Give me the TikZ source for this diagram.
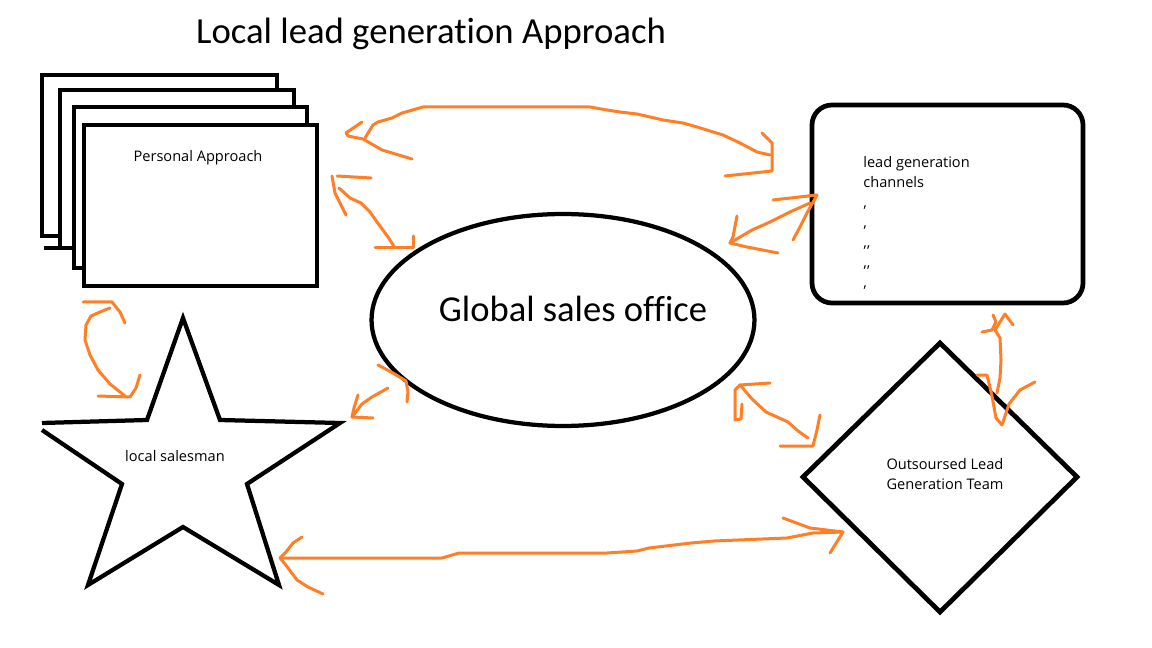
\documentclass[tikz,border=0pt]{standalone}
\usepackage{fontspec}
\setmainfont{Carlito}[Ligatures=NoCommon]
\newfontfamily\notefont{Open Sans}
\usetikzlibrary{shapes.geometric}
\definecolor{paintorange}{RGB}{255,127,39}

\begin{document}
\begin{tikzpicture}[x=0.02cm, y=-0.02cm,
    outline/.style={draw=black, line width=0.085cm},
    card/.style={outline, fill=white},
    pen/.style={draw=paintorange, line width=0.06cm, line cap=round, line join=round},
    note/.style={font=\notefont\fontsize{8.3}{11.4}\selectfont, inner sep=0pt}]
    \fill[white] (0,0) rectangle (1152,648);
    \useasboundingbox (0,0) rectangle (1152,648);
    \node[anchor=base, font=\fontsize{20.9}{24}\selectfont] (title) at (431,44) {Local lead generation Approach};

    % stack of cards
    \foreach \l/\t/\r/\b in {42/75/277/236, 60/90/294/248, 74/107/307/268, 84/125/317/286}
        \draw[card] (\l,\t) rectangle (\r,\b);
    \draw[outline] (44,248) -- (60,248);
    \node[note] (pa) at (198,158) {Personal Approach};

    \draw[outline, line width=0.095cm, rounded corners=0.4cm] (812,105) rectangle (1083,303);
    \node[note, anchor=north west, align=left] (lgc) at (863,156) {lead generation\\channels\\,\\,\\,,\\,,\\,};

    \node[outline, ellipse, minimum width=7.66cm, minimum height=4.24cm, inner sep=0pt] (gso) at (563,320) {};
    \node[anchor=base, font=\fontsize{20.8}{24}\selectfont] (gsotext) at (573,321) {Global sales office};

    \draw[outline, line join=miter] (42,423) -- (147,420) -- (183,318) -- (220,420) -- (340,423) -- (247,484)
        -- (279,585) -- (183,527) -- (88,585) -- (122,484) -- (42,430);
    \node[note] (ls) at (175,456) {local salesman};

    \draw[outline, line width=0.095cm] (940,343) -- (1077,477) -- (940,612) -- (803,477) -- cycle;
    \node[note, align=left] (olg) at (945,474) {Outsoursed Lead\\Generation Team};

    % card stack <-> channels
    \coordinate (a1) at (346,133);
    \coordinate (a2) at (772,171);
    \draw[pen] (362,122) -- (a1) -- (348,136) -- (363,139) -- (382,150) -- (412,159);
    \draw[pen] (365,138) -- (373,125) -- (378,122) -- (392,118) -- (402,113) -- (423,107) -- (590,107) -- (607,110)
        -- (620,112) -- (637,114) -- (663,120) -- (683,123) -- (697,127) -- (723,135) -- (740,143) -- (757,152) -- (770,155);
    \draw[pen] (762,133) -- (772,143) -- (a2) -- (725,176);

    % card stack <-> office
    \coordinate (b1) at (332,176);
    \coordinate (b2) at (413,248);
    \draw[pen] (371,178) -- (337,176);
    \draw[pen] (b1) -- (335,193) -- (346,215);
    \draw[pen] (339,188) -- (350,198) -- (361,203) -- (370,212) -- (377,222) -- (388,237) -- (395,248);
    \draw[pen] (375,248) -- (b2) -- (413,236);

    % channels <-> office
    \coordinate (c1) at (817,195);
    \coordinate (c2) at (730,243);
    \draw[pen] (773,200) -- (c1) -- (807,213) -- (800,227) -- (793,240);
    \draw[pen] (810,203) -- (790,212) -- (770,222) -- (752,230) -- (c2);
    \draw[pen] (737,216) -- (733,237) -- (c2) -- (747,247) -- (778,253);

    % card stack <-> salesman
    \coordinate (d1) at (112,302);
    \coordinate (d2) at (130,397);
    \draw[pen] (83,302) -- (d1) -- (120,312) -- (125,323);
    \draw[pen] (110,308) -- (100,312) -- (91,316) -- (86,325) -- (85,340) -- (90,355) -- (98,370) -- (110,384) -- (125,396);
    \draw[pen] (98,396) -- (d2) -- (136,388) -- (140,375);

    % office -> salesman
    \coordinate (e1) at (352,417);
    \draw[pen] (378,365) -- (393,373) -- (406,381) -- (408,392) -- (407,402);
    \draw[pen] (388,388) -- (372,397) -- (362,404) -- (e1);
    \draw[pen] (358,395) -- (354,408) -- (e1) -- (373,418);

    % office <-> outsourced team
    \coordinate (f1) at (740,385);
    \coordinate (f2) at (813,446);
    \draw[pen] (770,383) -- (f1) -- (735,390) -- (735,420) -- (741,419) -- (742,404);
    \draw[pen] (f1) -- (752,399) -- (766,412) -- (788,422) -- (798,431) -- (808,438);
    \draw[pen] (780,446) -- (f2) -- (817,430) -- (820,415);

    % channels <-> outsourced team
    \coordinate (g1) at (1005,314);
    \coordinate (g2) at (1002,425);
    \draw[pen] (982,332) -- (992,330) -- (996,322) -- (993,315);
    \draw[pen] (995,330) -- (g1) -- (1013,325);
    \draw[pen] (995,330) -- (1000,338) -- (1001,360) -- (1000,378) -- (997,393);
    \draw[pen] (977,375) -- (987,375) -- (992,396) -- (996,418) -- (g2) -- (1009,404) -- (1020,390) -- (1035,382);

    % salesman <-> outsourced team
    \coordinate (h1) at (280,558);
    \coordinate (h2) at (843,532);
    \draw[pen] (302,537) -- (293,543) -- (286,552) -- (h1) -- (285,564) -- (297,580) -- (308,587) -- (323,594);
    \draw[pen] (h1) -- (442,558) -- (459,553) -- (607,553) -- (637,551) -- (649,548) -- (691,543) -- (714,541)
        -- (787,538) -- (813,533) -- (h2);
    \draw[pen] (783,518) -- (810,528) -- (h2) -- (830,553);
\end{tikzpicture}
\end{document}
